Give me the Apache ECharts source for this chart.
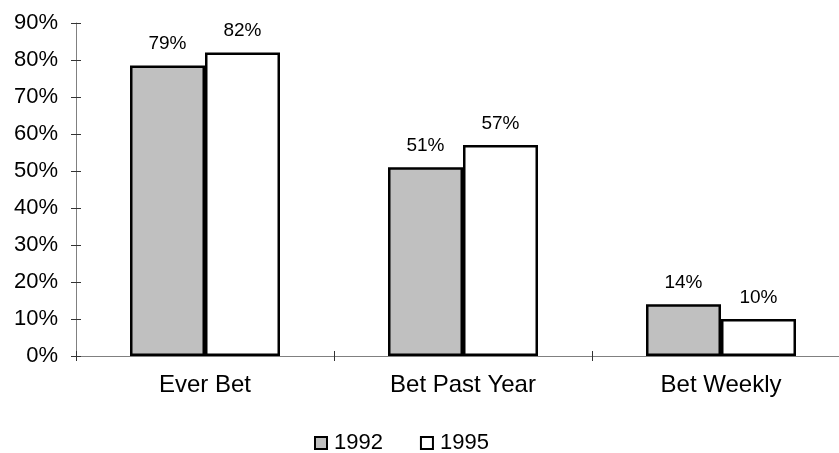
<!DOCTYPE html>
<html>
<head>
<meta charset="utf-8">
<script src="https://cdn.jsdelivr.net/npm/echarts@6/dist/echarts.min.js"></script>
<style>
  html, body { margin: 0; padding: 0; background: #fff; overflow: hidden; }
  /* the plot in the picture runs a little past the right edge of the window */
  #chart { width: 850px; height: 453px; }
</style>
</head>
<body>
<div id="chart"></div>
<script>
// data
const categories = ['Ever Bet', 'Bet Past Year', 'Bet Weekly']
const values1992 = [78.5, 51, 14]
const values1995 = [82, 57, 10]
const yTicks = [0, 10, 20, 30, 40, 50, 60, 70, 80, 90]

const font = 'Arial, "Liberation Sans", sans-serif'

const myChart = echarts.init(document.getElementById('chart'))

const barSeries = (name, data, fill) => ({
    name: name,
    type: 'bar',
    data: data,
    barWidth: 75,
    barGap: '0%',
    itemStyle: {
        color: fill,
        borderColor: '#000',
        borderWidth: 2.5
    },
    label: {
        show: true,
        position: 'top',
        distance: 12,
        color: '#000',
        fontFamily: font,
        fontSize: 19,
        formatter: (p) => Math.round(p.value) + '%'
    }
})

const option = {
    animation: false,
    backgroundColor: '#fff',
    grid: { left: 76, right: 0, top: 23, bottom: 97 },
    legend: {
        top: 432,
        left: 314,
        padding: 0,
        icon: 'rect',
        itemWidth: 12,
        itemHeight: 12,
        itemGap: 37,
        itemStyle: { borderColor: '#000', borderWidth: 2 },
        textStyle: { fontFamily: font, fontSize: 22, color: '#000', padding: [0, 0, 0, 2] },
        data: ['1992', '1995']
    },
    xAxis: [
        {
            type: 'category',
            data: categories,
            axisLine: { lineStyle: { color: '#808080', width: 1 } },
            axisTick: { show: true, length: 5, lineStyle: { color: '#333' } },
            axisLabel: { margin: 17, color: '#000', fontFamily: font, fontSize: 24 }
        },
        {
            // second axis only for the inner half of the crossing ticks
            type: 'category',
            data: categories,
            position: 'bottom',
            axisLine: { show: false },
            axisTick: { show: true, inside: true, length: 5, lineStyle: { color: '#333' } },
            axisLabel: { show: false }
        }
    ],
    yAxis: [
        {
            type: 'value',
            min: yTicks[0],
            max: yTicks[yTicks.length - 1],
            interval: 10,
            splitLine: { show: false },
            axisLine: { show: true, lineStyle: { color: '#808080', width: 1 } },
            axisTick: { show: true, length: 5, lineStyle: { color: '#333' } },
            axisLabel: {
                margin: 18,
                color: '#000',
                fontFamily: font,
                fontSize: 22,
                formatter: (v) => v + '%'
            }
        },
        {
            type: 'value',
            min: yTicks[0],
            max: yTicks[yTicks.length - 1],
            interval: 10,
            position: 'left',
            splitLine: { show: false },
            axisLine: { show: false },
            axisTick: { show: true, inside: true, length: 5, lineStyle: { color: '#333' } },
            axisLabel: { show: false }
        }
    ],
    series: [
        barSeries('1992', values1992, '#c0c0c0'),
        barSeries('1995', values1995, '#ffffff')
    ]
}

myChart.setOption(option)
</script>
</body>
</html>
